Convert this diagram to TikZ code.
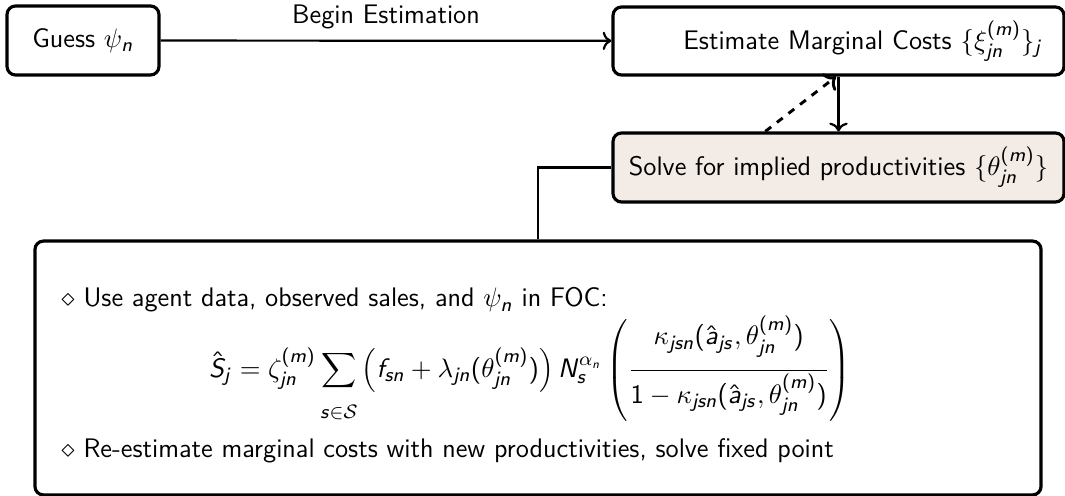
\documentclass[tikz,border=0pt]{standalone}
\usetikzlibrary{arrows.meta}
% sans-serif Latin letters, digits and operators in math; Greek stays as is
\DeclareSymbolFont{sfletters}{OT1}{cmss}{m}{sl}
\SetSymbolFont{operators}{normal}{OT1}{cmss}{m}{n}
\newcount\sfmcount
\def\sfmathrange#1#2{\sfmcount=#1\relax
  \loop \mathcode\sfmcount=\numexpr"7000+\symsfletters*256+\sfmcount\relax
  \ifnum\sfmcount<#2 \advance\sfmcount by 1 \repeat}
\sfmathrange{`a}{`z}
\sfmathrange{`A}{`Z}
\definecolor{solvefill}{RGB}{242,235,230}
\tikzset{
  flowbox/.style={draw, line width=1.3pt, rounded corners=3.5pt, align=center, inner sep=0pt},
  conn/.style={line width=0.9pt},
  hint/.style={line width=1.2pt, dashed},
  plain/.style={inner sep=0pt, anchor=base west},
}
\begin{document}
\begin{tikzpicture}[x=0.41pt, y=-0.41pt, font=\fontsize{11}{13.6}\selectfont\sffamily, >=To]
\useasboundingbox (0,0) rectangle (1065,496);

% flow boxes
\node[flowbox, minimum width=62.3pt, minimum height=28.3pt] (guess) at (83,40.5) {Guess $\psi_n$};
\node[flowbox, minimum width=184.9pt, minimum height=27.9pt, text width=167.7pt, align=right] (est) at (838.5,41)
  {Estimate Marginal Costs $\{\xi^{(m)}_{jn}\}_j$};
\node[flowbox, fill=solvefill, minimum width=184.9pt, minimum height=28.3pt] (solve) at (838.5,167.5)
  {Solve for implied productivities $\{\theta^{(m)}_{jn}\}$};
\node[flowbox, minimum width=412.5pt, minimum height=104.1pt] (work) at (538,368) {};

% contents of the estimation step
\node[plain] (foc) at (61,307) {$\diamond$ Use agent data, observed sales, and $\psi_n$ in FOC:};
\node[inner sep=0pt, anchor=base] (eq) at (530,377) {$\displaystyle
  \hat{S}_j = \zeta^{(m)}_{jn} \sum_{\rule{0pt}{10pt}s\in\mathcal{S}}
  \left(f_{sn} + \lambda_{jn}(\theta^{(m)}_{jn})\right) N_s^{\alpha_n}
  \left(\frac{\rule[-9pt]{0pt}{9pt}\kappa_{jsn}(\hat{a}_{js},\theta^{(m)}_{jn})}%
             {\rule{0pt}{12pt}1-\kappa_{jsn}(\hat{a}_{js},\theta^{(m)}_{jn})}\right)$};
\node[plain] (refix) at (61,457) {$\diamond$ Re-estimate marginal costs with new productivities, solve fixed point};

% connectors
\draw[conn,->] (guess) -- node[above=1pt] (beginlbl) {Begin Estimation} (est);
\draw[conn,->] (est) -- (solve);
\draw[hint,->] ([xshift=-30pt]solve.north) -- ([xshift=-1pt]est.south);
\draw[conn, line width=1.2pt] (solve.west) -| (work.north);
\end{tikzpicture}
\end{document}
